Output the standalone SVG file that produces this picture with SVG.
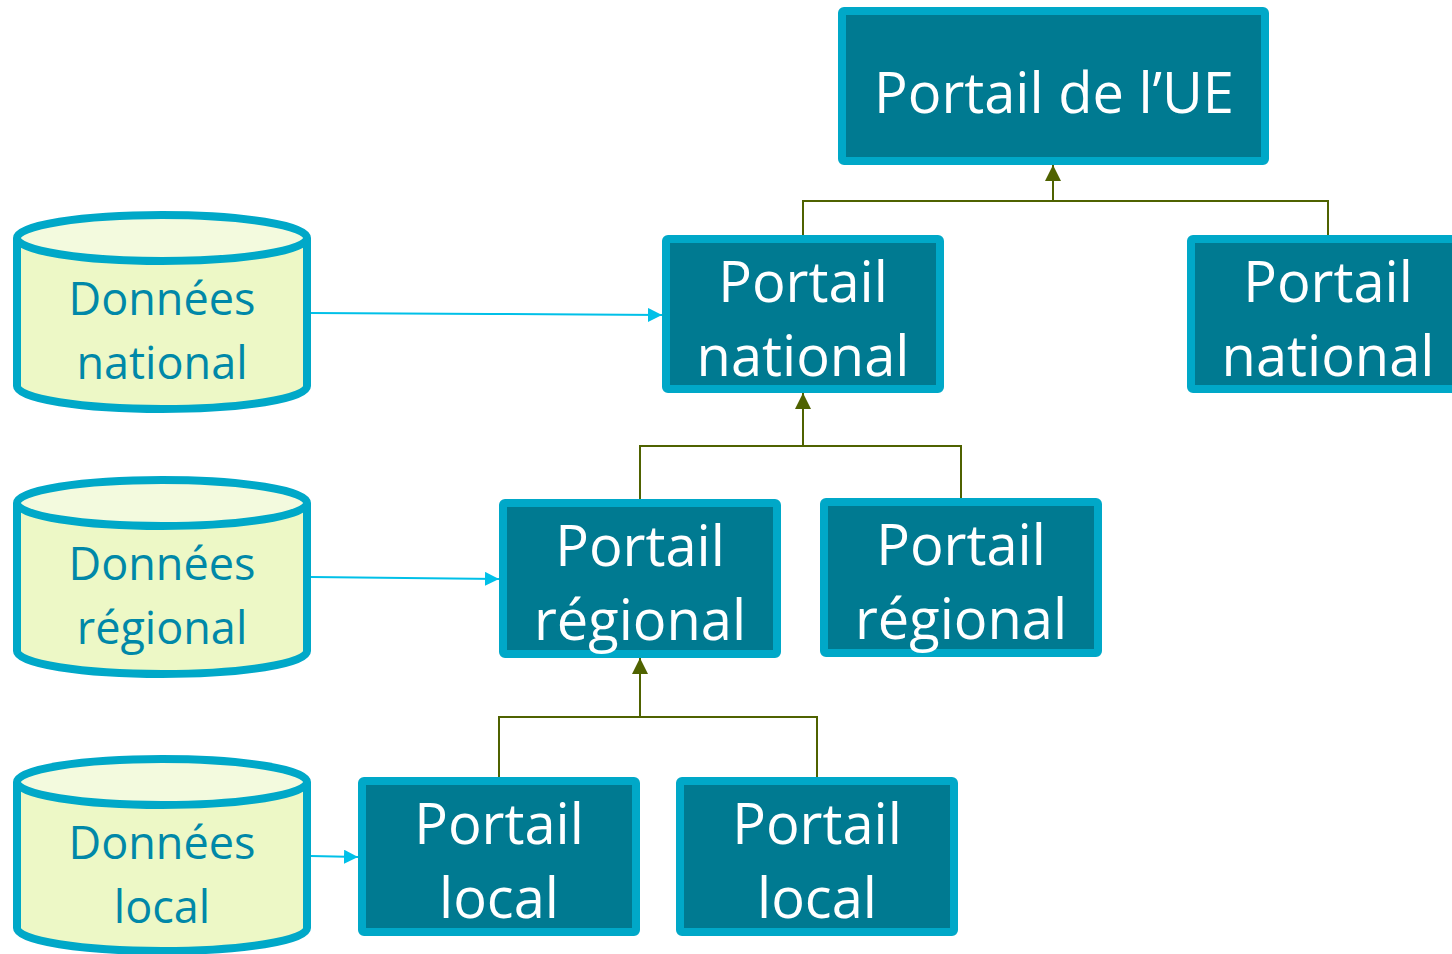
<svg xmlns="http://www.w3.org/2000/svg" width="1452" height="954" viewBox="0 0 1452 954">
<style>
.box{fill:#007A91;stroke:#00A8C8;stroke-width:8}
.bt{fill:#FFFFFF;font-family:"Open Sans",sans-serif;font-size:56px;text-anchor:middle}
.cyl{fill:#EDF8C6;stroke:#00A8C8;stroke-width:8}
.cyltop{fill:#F3FADE;stroke:#00A8C8;stroke-width:8}
.ct{fill:#0088A8;font-family:"Open Sans",sans-serif;font-size:45px;text-anchor:middle}
.tree{fill:none;stroke:#4F6200;stroke-width:2}
.feed{fill:none;stroke:#00C0E8;stroke-width:2}
</style>
<defs>
<marker id="ac" viewBox="0 0 10 10" refX="10" refY="5" markerWidth="14" markerHeight="14" orient="auto" markerUnits="userSpaceOnUse">
<path d="M0,0 L10,5 L0,10 z" fill="#00C0E8"/>
</marker>
<marker id="ah2" viewBox="0 0 10 10" refX="10" refY="5" markerWidth="16" markerHeight="16" orient="auto" markerUnits="userSpaceOnUse">
<path d="M0,0 L10,5 L0,10 z" fill="#4F6200"/>
</marker>
</defs>
<g id="connectors">
<path class="tree" d="M803,239 V201 H1328 V239"/>
<path class="tree" d="M1053,201 V165" marker-end="url(#ah2)"/>
<path class="tree" d="M640,503 V446 H961 V499"/>
<path class="tree" d="M803,446 V393" marker-end="url(#ah2)"/>
<path class="tree" d="M499,777 V717 H817 V777"/>
<path class="tree" d="M640,717 V658" marker-end="url(#ah2)"/>
<path class="feed" d="M311,313 L490,314 L662,315" marker-end="url(#ac)"/>
<path class="feed" d="M311,577 L499,579" marker-end="url(#ac)"/>
<path class="feed" d="M311,856 L358,857" marker-end="url(#ac)"/>
</g>
<g id="portail-ue">
<rect class="box" x="842" y="11" width="423" height="150" rx="2"/>
<text class="bt" x="1054" y="113">Portail de l’UE</text>
</g>
<g id="portail-national-1">
<rect class="box" x="666" y="239" width="274" height="150" rx="2"/>
<text class="bt" x="803" y="302">Portail</text>
<text class="bt" x="803" y="376">national</text>
</g>
<g id="portail-national-2">
<rect class="box" x="1191" y="239" width="274" height="150" rx="2"/>
<text class="bt" x="1328" y="302">Portail</text>
<text class="bt" x="1328" y="376">national</text>
</g>
<g id="portail-regional-1">
<rect class="box" x="503" y="503" width="274" height="151" rx="2"/>
<text class="bt" x="640" y="566">Portail</text>
<text class="bt" x="640" y="640">régional</text>
</g>
<g id="portail-regional-2">
<rect class="box" x="824" y="502" width="274" height="151" rx="2"/>
<text class="bt" x="961" y="565">Portail</text>
<text class="bt" x="961" y="639">régional</text>
</g>
<g id="portail-local-1">
<rect class="box" x="362" y="781" width="274" height="151" rx="2"/>
<text class="bt" x="499" y="844">Portail</text>
<text class="bt" x="499" y="918">local</text>
</g>
<g id="portail-local-2">
<rect class="box" x="680" y="781" width="274" height="151" rx="2"/>
<text class="bt" x="817" y="844">Portail</text>
<text class="bt" x="817" y="918">local</text>
</g>
<g id="donnees-national">
<path class="cyl" d="M17,238 V386 A145,23 0 0 0 307,386 V238"/>
<ellipse class="cyltop" cx="162" cy="238" rx="145" ry="23"/>
<text class="ct" x="162" y="315">Données</text>
<text class="ct" x="162" y="379">national</text>
</g>
<g id="donnees-regional">
<path class="cyl" d="M17,503 V651 A145,23 0 0 0 307,651 V503"/>
<ellipse class="cyltop" cx="162" cy="503" rx="145" ry="23"/>
<text class="ct" x="162" y="580">Données</text>
<text class="ct" x="162" y="644">régional</text>
</g>
<g id="donnees-local">
<path class="cyl" d="M17,782 V928 A145,23 0 0 0 307,928 V782"/>
<ellipse class="cyltop" cx="162" cy="782" rx="145" ry="23"/>
<text class="ct" x="162" y="859">Données</text>
<text class="ct" x="162" y="923">local</text>
</g>
</svg>
